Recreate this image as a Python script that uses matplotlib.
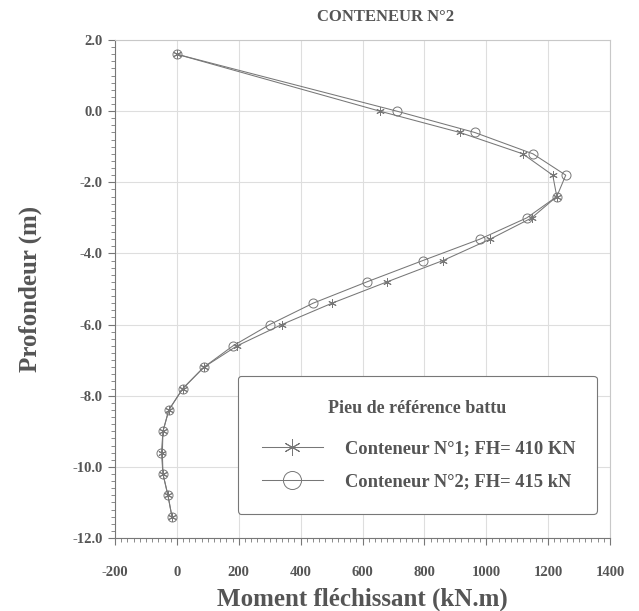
import numpy as np
import matplotlib.pyplot as plt
from matplotlib.ticker import MultipleLocator, FormatStrFormatter

# Profondeur des points de mesure (m)
profondeur = [1.6, 0.0, -0.6, -1.2, -1.8, -2.4, -3.0, -3.6, -4.2, -4.8, -5.4,
              -6.0, -6.6, -7.2, -7.8, -8.4, -9.0, -9.6, -10.2, -10.8, -11.4]
# Moment fléchissant (kN.m)
moment_c1 = [0, 656, 915, 1118, 1215, 1228, 1147, 1012, 860, 679, 501,
             339, 194, 87, 19, -26, -45, -47, -45, -29, -16]
moment_c2 = [0, 711, 963, 1151, 1257, 1228, 1131, 979, 795, 614, 440,
             300, 181, 87, 19, -26, -45, -50, -45, -29, -16]

labels = ['Conteneur N°1; FH= 410 KN', 'Conteneur N°2; FH= 415 kN']
titre = 'CONTENEUR N°2'

plt.rcParams['font.family'] = ['Liberation Serif', 'DejaVu Serif']
plt.rcParams['font.weight'] = 'bold'
plt.rcParams['axes.unicode_minus'] = False

gris_texte = '#555555'
gris_ligne = '#777777'

fig = plt.figure(figsize=(6.39, 6.11), dpi=100)
ax = fig.add_axes([0.18, 0.1195, 0.7746, 0.815])

ax.plot(moment_c1, profondeur, color=gris_ligne, lw=0.75,
        marker=(6, 2, 0), ms=6, mew=0.7, label=labels[0])
ax.plot(moment_c2, profondeur, color=gris_ligne, lw=0.75,
        marker='o', ms=6.5, mfc='none', mew=0.7, label=labels[1])

ax.set_xlim(-200, 1400)
ax.set_ylim(-12, 2)
ax.xaxis.set_major_locator(MultipleLocator(200))
ax.xaxis.set_minor_locator(MultipleLocator(20))
ax.yaxis.set_major_locator(MultipleLocator(2))
ax.yaxis.set_minor_locator(MultipleLocator(0.2))
ax.yaxis.set_major_formatter(FormatStrFormatter('%.1f'))

ax.grid(True, which='major', color='#dedede', lw=0.8)
ax.set_axisbelow(True)
ax.tick_params(which='major', length=5, width=0.8, color=gris_ligne,
               labelsize=10.5, labelcolor=gris_texte)
ax.tick_params(axis='x', which='major', pad=15)
ax.tick_params(axis='y', which='major', pad=4)
ax.tick_params(which='minor', length=3, width=0.6, color=gris_ligne)

for s in ['left', 'bottom']:
    ax.spines[s].set_color(gris_ligne)
for s in ['top', 'right']:
    ax.spines[s].set_color('#c8c8c8')

ax.set_xlabel('Moment fléchissant (kN.m)', fontsize=18, fontweight='bold',
              color=gris_texte, labelpad=6)
ax.set_ylabel('Profondeur (m)', fontsize=18, fontweight='bold',
              color=gris_texte, labelpad=22)
fig.text(0.604, 0.972, titre, ha='center', va='center', fontsize=12,
         fontweight='bold', color=gris_texte)

leg = ax.legend(title='Pieu de référence battu', loc='lower left',
                bbox_to_anchor=(0.248, 0.048, 0.726, 0.279), mode='expand',
                borderaxespad=0, fontsize=13.3, title_fontsize=13,
                handlelength=3.3, handletextpad=1.2, markerscale=2,
                labelspacing=0.85, borderpad=1.3, fancybox=True,
                edgecolor=gris_ligne, framealpha=1)
leg.get_frame().set_linewidth(0.8)
leg.get_title().set_color(gris_texte)
leg.get_title().set_fontweight('bold')
leg._legend_box.sep = 17
for t in leg.get_texts():
    t.set_color(gris_texte)

fig.savefig('out.png', dpi=100)
